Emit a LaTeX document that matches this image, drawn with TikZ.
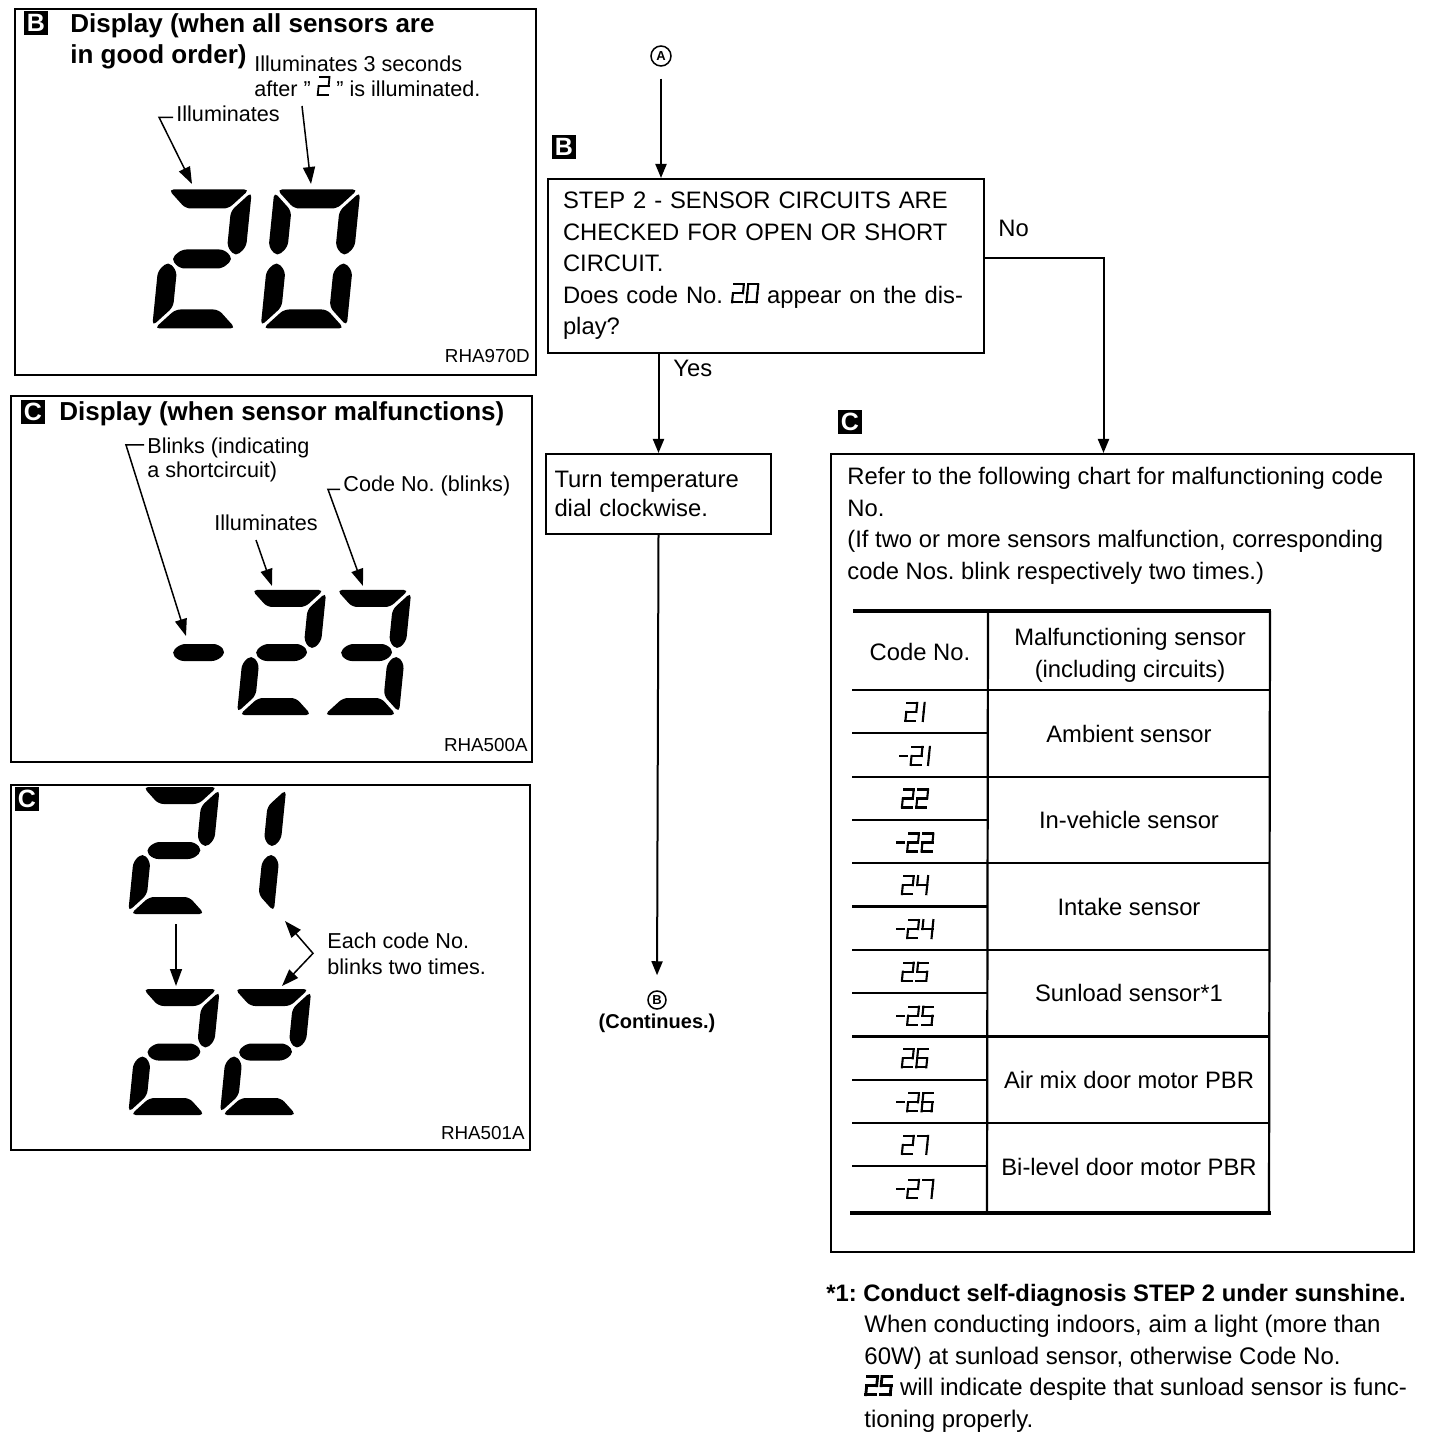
\documentclass[tikz,border=0pt]{standalone}
\usepackage{fontspec}
\setmainfont{Liberation Sans}
\usetikzlibrary{arrows.meta,positioning}
\frenchspacing
\newcommand\bodyfont{\fontsize{11.9}{15.75}\selectfont}
\newcommand\dq{\symbol{34}}
% small seven-segment codes (inline)
\def\lcdH{9}
\newcommand\lcddef[3]{\expandafter\def\csname lcds#1\endcsname{#2}\expandafter\def\csname lcdw#1\endcsname{#3}}
\lcddef{0}{a,b,c,d,e,f}{5}\lcddef{1}{b,c}{1.5}\lcddef{2}{a,b,g,e,d}{5}\lcddef{4}{f,g,b,c}{5}
\lcddef{5}{a,f,g,c,d}{5}\lcddef{6}{a,f,g,e,d,c}{5}\lcddef{7}{a,b,c}{5}\lcddef{-}{g}{3.5}
\def\lcdpa{(0,\lcdH)--(\lcdW,\lcdH)}\def\lcdpb{(\lcdW,\lcdH)--(\lcdW,\lcdH/2)}
\def\lcdpc{(\lcdW,\lcdH/2)--(\lcdW,0)}\def\lcdpd{(0,0)--(\lcdW,0)}
\def\lcdpe{(0,0)--(0,\lcdH/2)}\def\lcdpf{(0,\lcdH/2)--(0,\lcdH)}\def\lcdpg{(0,\lcdH/2)--(\lcdW,\lcdH/2)}
\newcommand\lcdnum[2][1.05pt]{\tikz[baseline=0pt,x=1pt,y=1pt,line width=#1,line cap=rect,yshift=0.55pt,xslant=0.1]{%
  \gdef\lcdx{0}%
  \foreach \ch in {#2}{%
    \edef\lcdW{\csname lcdw\ch\endcsname}\edef\lcdcur{\csname lcds\ch\endcsname}%
    \begin{scope}[xshift=\lcdx pt]
      \foreach \s in \lcdcur {\expandafter\let\expandafter\lcdseg\csname lcdp\s\endcsname\draw \lcdseg;}
    \end{scope}
    \pgfmathsetmacro\lcdnext{\lcdx+\lcdW+2.2}\xdef\lcdx{\lcdnext}}}}
% large display digits
\def\bdg{2.5}
\def\bsega{(-\dh+\bdg,-\dh)--(\dW+\dh-\bdg,-\dh)--(\dW-\dh-\bdg,\dh)--(\dh+\bdg,\dh)--cycle}
\def\bsegb{(\dW+\dh,-\dh+\bdg)--(\dW+\dh,\dm-\bdg-\dh)--(\dW,\dm-\bdg)--(\dW-\dh,\dm-\bdg-\dh)--(\dW-\dh,\dh+\bdg)--cycle}
\def\bsegc{(\dW,\dm+\bdg)--(\dW+\dh,\dm+\bdg+\dh)--(\dW+\dh,\dH+\dh-\bdg)--(\dW-\dh,\dH-\dh-\bdg)--(\dW-\dh,\dm+\bdg+\dh)--cycle}
\def\bsegd{(\dh+\bdg,\dH-\dh)--(\dW-\dh-\bdg,\dH-\dh)--(\dW+\dh-\bdg,\dH+\dh)--(-\dh+\bdg,\dH+\dh)--cycle}
\def\bsege{(0,\dm+\bdg)--(\dh,\dm+\bdg+\dh)--(\dh,\dH-\dh-\bdg)--(-\dh,\dH+\dh-\bdg)--(-\dh,\dm+\bdg+\dh)--cycle}
\def\bsegf{(-\dh,-\dh+\bdg)--(\dh,\dh+\bdg)--(\dh,\dm-\bdg-\dh)--(0,\dm-\bdg)--(-\dh,\dm-\bdg-\dh)--cycle}
\def\bsegg{(\bdg,\dm)--(\dh+\bdg,\dm-\dh)--(\dW-\dh-\bdg,\dm-\dh)--(\dW-\bdg,\dm)--(\dW-\dh-\bdg,\dm+\dh)--(\dh+\bdg,\dm+\dh)--cycle}
\newcommand\lcdbig[6]{\begin{scope}[shift={(#1,#2)},xslant=0.1]
  \def\dW{#3}\def\dH{#4}\def\dh{#5}\pgfmathsetmacro\dm{#4/2}
  \foreach \s in {#6}{\expandafter\let\expandafter\bseg\csname bseg\s\endcsname\fill[rounded corners=2.5pt] \bseg;}
  \end{scope}}
\tikzset{panel/.style={draw,line width=1.2pt,anchor=north west,inner sep=0pt},badge/.style={fill=black,text=white,font=\bfseries\fontsize{12.5}{12.5}\selectfont,minimum size=12pt,inner sep=0pt},heading/.style={font=\bfseries\fontsize{13}{15.5}\selectfont,align=left,inner sep=0pt},callout/.style={font=\fontsize{10.8}{12.5}\selectfont,align=left,inner sep=0pt},figcode/.style={font=\fontsize{9.4}{10}\selectfont,inner sep=0pt,anchor=base east},flowbox/.style={draw,line width=1pt,anchor=north west,align=left,font=\bodyfont,inner xsep=7.5pt},flow/.style={-{Triangle[length=7pt,width=5.5pt]},line width=1pt},pointer/.style={-{Triangle[length=8.5pt,width=6pt]},line width=0.75pt},twoway/.style={pointer,{Triangle[length=8.5pt,width=6pt]}-{Triangle[length=8.5pt,width=6pt]}},circ/.style={draw,circle,line width=0.75pt,inner sep=0pt,minimum size=10pt,font=\bfseries\fontsize{6.5}{6.5}\selectfont},txt/.style={font=\bodyfont,inner sep=0pt,anchor=base west},cell/.style={font=\bodyfont,inner sep=0pt,anchor=base},rule/.style={line width=1.1pt},heavyrule/.style={line width=2pt}}
\begin{document}
\begin{tikzpicture}[x=0.5pt,y=-0.5pt]
\useasboundingbox (0,0) rectangle (1440,1438);
% display, all sensors in good order
\node[panel,minimum width=260.5pt,minimum height=183pt] (pnlB) at (14,8) {};
\node[badge] (bdgB) at (36,23) {B};
\node[heading,anchor=north west] (ttlB) at (70,13) {Display (when all sensors are\\in good order)};
\node[callout,anchor=north west] (illum3s) at (254,55) {Illuminates 3 seconds\\after \dq\ \lcdnum[0.9pt]{2} \dq\ is illuminated.};
\node[callout,anchor=base west] (illumB) at (176,122) {Illuminates};
\node[figcode] (refB) at (530,363) {RHA970D};
\lcdbig{174.5}{199}{67}{120}{9.5}{a,b,g,e,d}
\lcdbig{283}{199}{67}{120}{9.5}{a,b,c,d,e,f}
\coordinate (tipB1) at (192,184);
\coordinate (tailB2) at (302,106);
\coordinate (tipB2) at (311,184);
\draw[pointer] ([xshift=-1.5pt,yshift=-1.5pt]illumB.west) -- ++(-7pt,0) -- (tipB1);
\draw[pointer] (tailB2) -- (tipB2);
% display, sensor malfunction
\node[panel,minimum width=260.5pt,minimum height=183pt] (pnlC) at (10,395) {};
\node[badge] (bdgC1) at (33,412) {C};
\node[heading,anchor=base west] (ttlC) at (59,421) {Display (when sensor malfunctions)};
\node[callout,anchor=north west,font=\fontsize{10.8}{12}\selectfont] (blinks) at (147,437) {Blinks (indicating\\a shortcircuit)};
\node[callout,anchor=base west] (codeNo) at (343,492) {Code No. (blinks)};
\node[callout,anchor=base west] (illumC) at (214,531) {Illuminates};
\node[figcode] (refC) at (528,751) {RHA500A};
\lcdbig{174}{598.5}{60}{108}{8.5}{g}
\lcdbig{257}{598.5}{60}{108}{8.5}{a,b,g,e,d}
\lcdbig{342}{598.5}{60}{108}{8.5}{a,b,g,c,d}
\coordinate (tipMinus) at (186,636);
\coordinate (tailC2) at (256,540);
\coordinate (tipC2) at (272,586);
\coordinate (tipC3) at (363,586);
\draw[pointer] ([xshift=-1.5pt,yshift=-4pt]blinks.north west) -- ++(-9pt,0) -- (tipMinus);
\draw[pointer] (tailC2) -- (tipC2);
\draw[pointer] ([xshift=-1.5pt,yshift=-1.5pt]codeNo.west) -- ++(-6pt,0) -- (tipC3);
% two codes in turn
\node[panel,minimum width=259.5pt,minimum height=182.5pt] (pnlC2) at (10,784) {};
\node[badge] (bdgC2) at (27,799) {C};
\lcdbig{148.4}{795.5}{62}{110}{8.5}{a,b,g,e,d}
\lcdbig{215}{795.5}{62}{110}{8.5}{b,c}
\lcdbig{148.4}{997.5}{62}{109}{8.5}{a,b,g,e,d}
\lcdbig{240}{997.5}{62}{109}{8.5}{a,b,g,e,d}
\node[callout,anchor=north west,font=\fontsize{10.8}{13}\selectfont] (blinkTwice) at (327,932) {Each code No.\\blinks two times.};
\node[figcode] (refC2) at (525,1139) {RHA501A};
\coordinate (tail21) at (176,924);
\coordinate (tip22) at (176,986);
\coordinate (tipUp) at (285,921);
\coordinate (tipDown) at (282,986);
\draw[pointer] (tail21) -- (tip22);
\draw[twoway] (tipUp) -- ([xshift=-7pt]blinkTwice.west) -- (tipDown);
% flow chart
\node[circ] (circA) at (661,56) {A};
\node[badge] (bdgB2) at (564,147) {B};
\node[flowbox,minimum width=218pt,minimum height=87pt,text width=203pt] (step2) at (547,178) {STEP 2 - SENSOR CIRCUITS ARE\\CHECKED FOR OPEN OR SHORT\\CIRCUIT.\\Does code No. \lcdnum{2,0} appear on the dis-\\play?};
\node[flowbox,minimum width=112.5pt,minimum height=40pt,text width=104pt,inner xsep=4pt,font=\fontsize{11.9}{14.5}\selectfont] (turn) at (545,453) {Turn temperature\\dial clockwise.};
\node[circ,minimum size=9pt] (circB) at (657,1000) {B};
\node[font=\bfseries\fontsize{10}{10}\selectfont,inner sep=0pt,anchor=base] (cont) at (657,1028) {(Continues.)};
\node[badge] (bdgC3) at (850,422) {C};
\node[flowbox,minimum width=291.5pt,minimum height=399pt] (chart) at (830,453) {};
\node[txt,anchor=north west,align=left] (chartintro) at (847,467) {Refer to the following chart for malfunctioning code\\No.\\(If two or more sensors malfunction, corresponding\\code Nos. blink respectively two times.)};
\draw[flow,shorten <=6pt] (circA) -- (circA |- step2.north);
\draw[flow] ([yshift=4pt]step2.east) -| ([xshift=-9.5pt]chart.north);
\draw[flow] (turn.north |- step2.south) -- (turn.north);
\draw[flow,shorten >=7.5pt] (turn.south) -- (circB.north);
\node[txt] (no) at (998,237) {No};
\node[txt] (yes) at (673,377) {Yes};
% code chart
\draw[heavyrule] (853,611) -- (1271,611);
\draw[heavyrule] (850,1213) -- (1271,1213);
\draw[rule] (988,611) -- (987,1213);
\draw[rule] (1270,611) -- (1269,1213);
\foreach \i in {0,...,5}{
  \pgfmathsetmacro\ry{690+86.6*\i}
  \draw[rule] (852,\ry) -- (1270,\ry);
  \draw[rule] (852,\ry+43.3) -- (988,\ry+43.3);}
\node[cell] (hdcode) at (920,661) {Code No.};
\node[cell,anchor=north,align=center,font=\fontsize{11.9}{16}\selectfont] (hdsensor) at (1130,628) {Malfunctioning sensor\\(including circuits)};
\foreach \cd/\name [count=\i from 0] in {1/Ambient sensor,2/In-vehicle sensor,4/Intake sensor,5/Sunload sensor*1,6/Air mix door motor PBR,7/Bi-level door motor PBR}{
  \pgfmathsetmacro\ry{690+86.6*\i}
  \node[cell] (code\i) at (915,\ry+32) {\lcdnum{2,\cd}};
  \node[cell] (mcode\i) at (915,\ry+76) {\lcdnum{-,2,\cd}};
  \node[cell] (sensor\i) at (1129,\ry+52) {\name};}
% footnote
\node[txt,font=\bfseries\fontsize{11.9}{15.75}\selectfont] (fnhead) at (826,1301) {*1: Conduct self-diagnosis STEP 2 under sunshine.};
\node[txt,anchor=north west,align=left,font=\fontsize{12}{15.75}\selectfont] (fnbody) at (864,1315) {When conducting indoors, aim a light (more than\\60W) at sunload sensor, otherwise Code No.\\\lcdnum[1.4pt]{2,5} will indicate despite that sunload sensor is func-\\tioning properly.};
\end{tikzpicture}
\end{document}
